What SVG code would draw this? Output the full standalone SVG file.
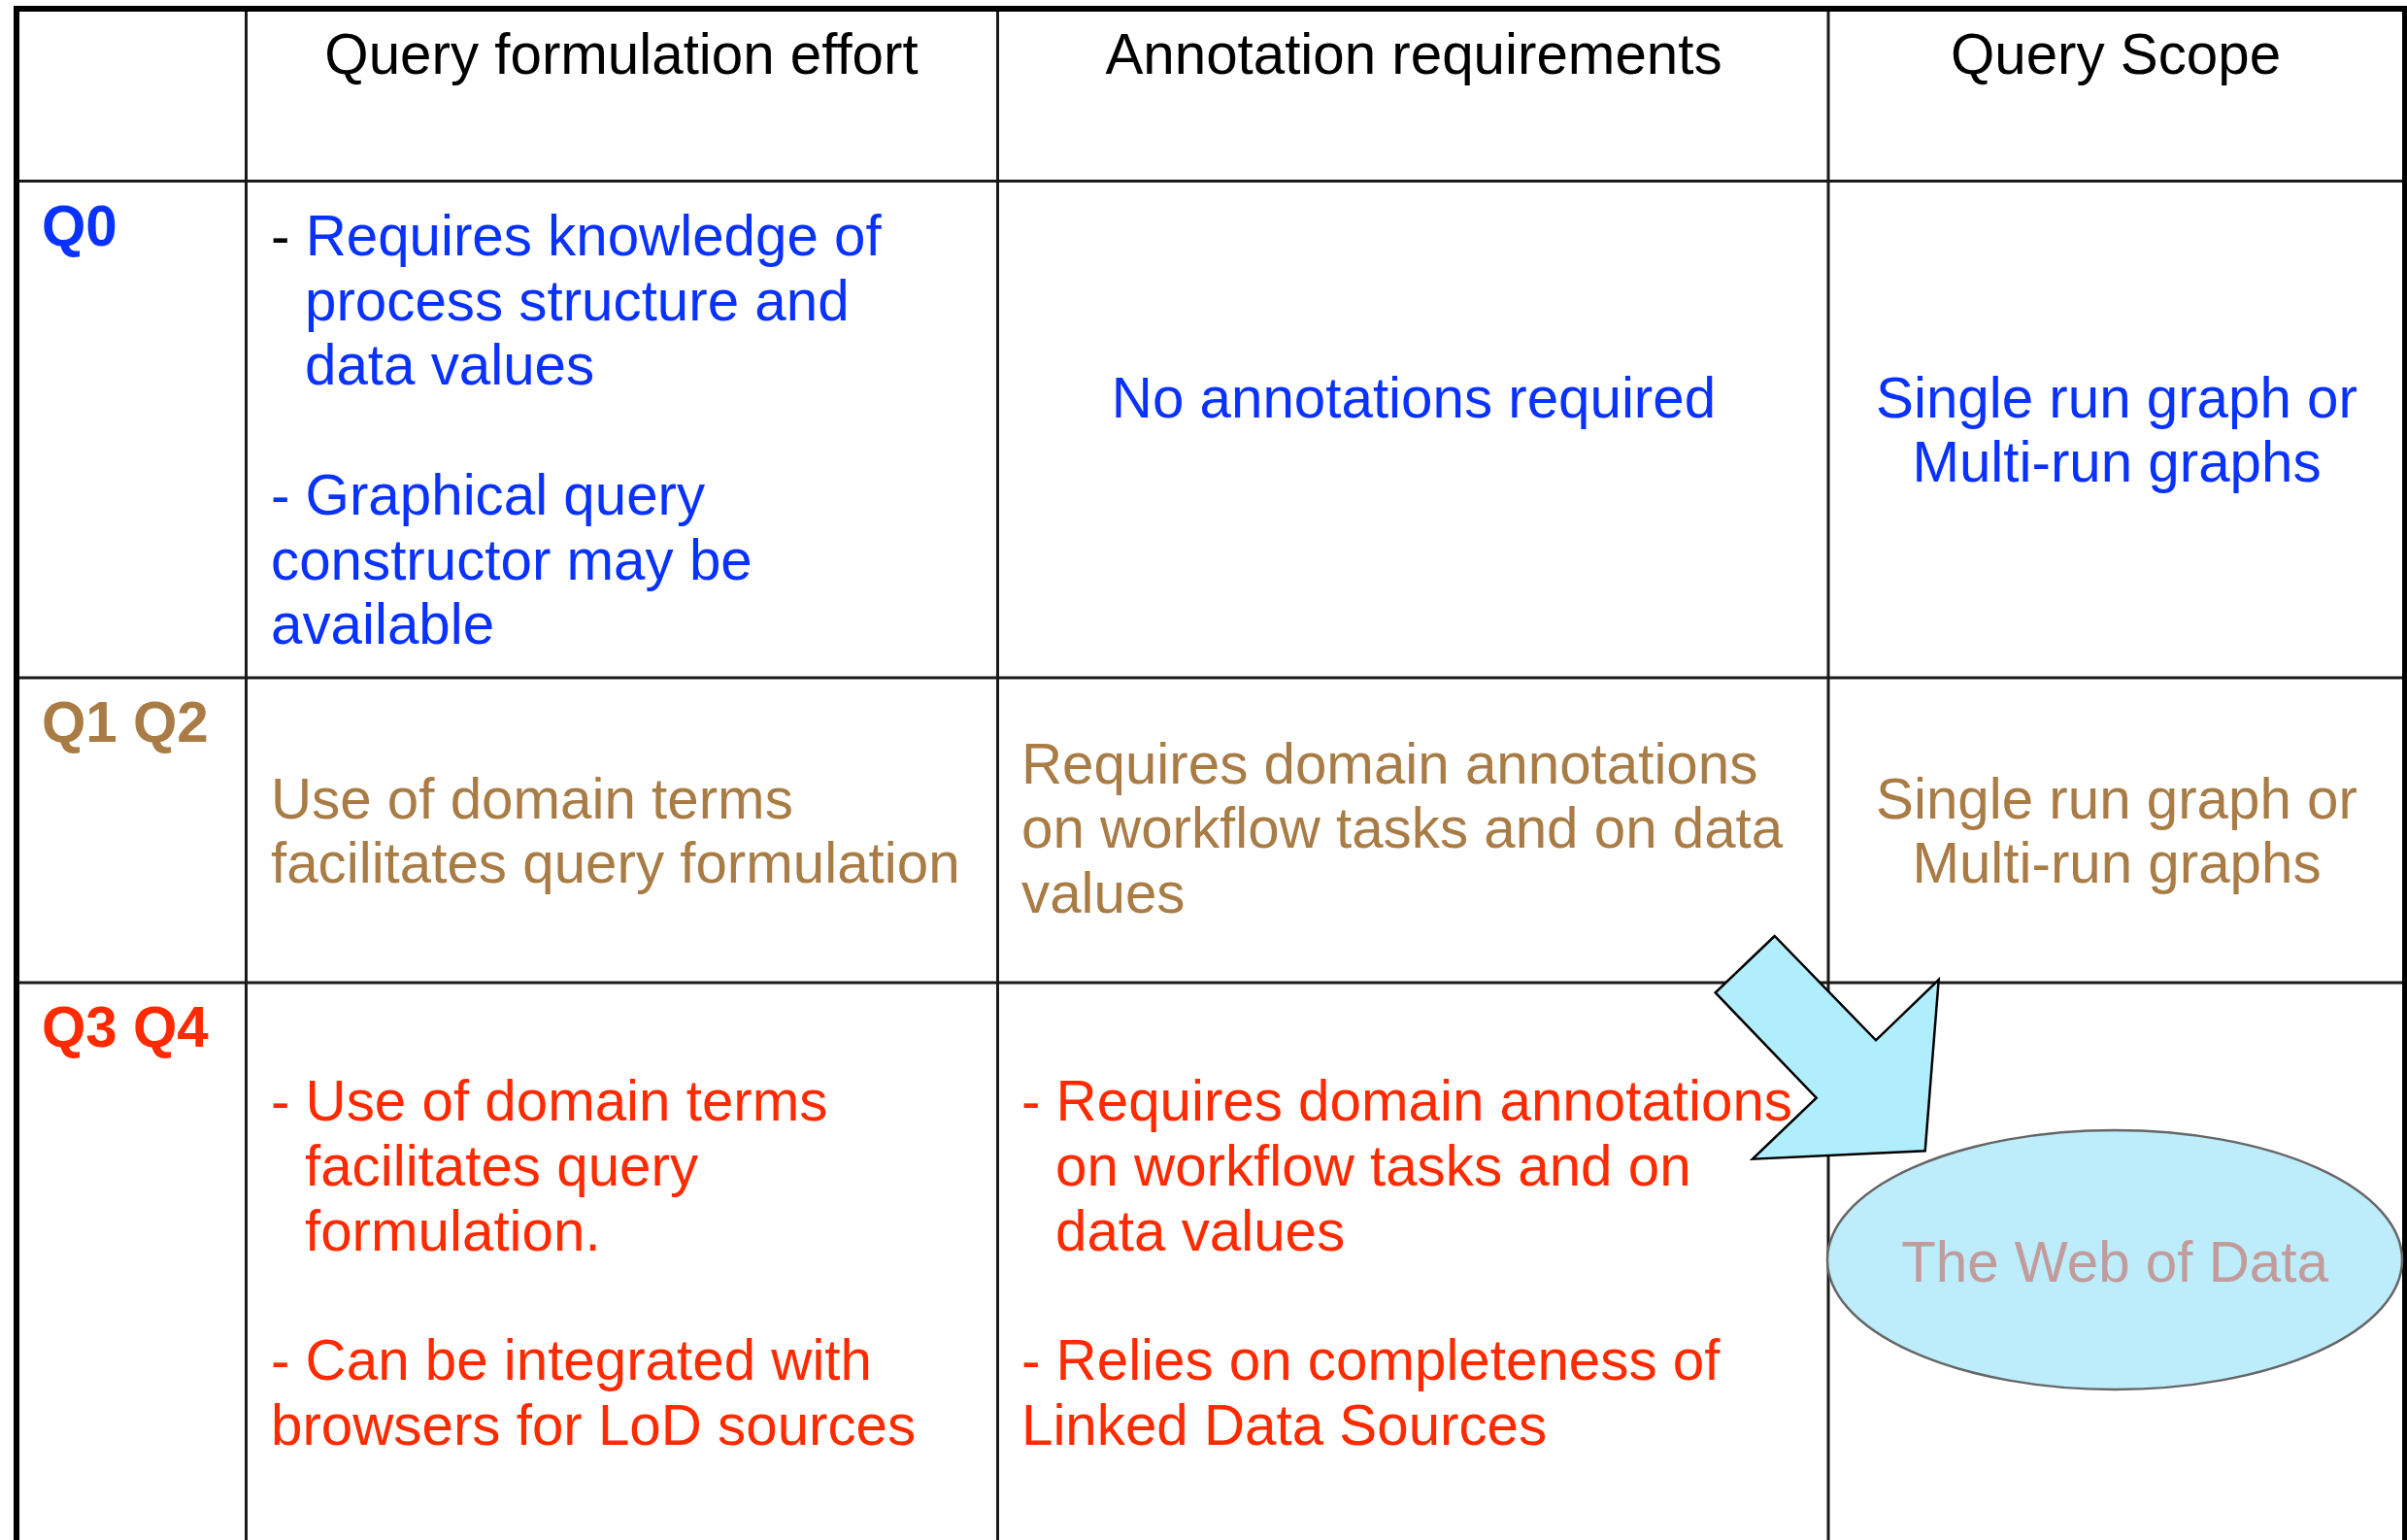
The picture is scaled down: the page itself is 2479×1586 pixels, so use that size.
<svg xmlns="http://www.w3.org/2000/svg" width="2479" height="1586" viewBox="0 0 2479 1586">
<style>
  text { font-family: "Liberation Sans", Arial, sans-serif; font-size: 58.3px; }
  .hdr { fill: #000000; text-anchor: middle; }
  .lbl { font-weight: bold; }
  .blue { fill: #0a32ff; }
  .brown { fill: #a97c46; }
  .red { fill: #ff2a00; }
  .mid { text-anchor: middle; }
  .grid { stroke: #1a1a1a; stroke-width: 3; fill: none; }
  .outer { stroke: #000000; stroke-width: 6; fill: none; }
</style>
<rect x="0" y="0" width="2479" height="1586" fill="#ffffff"/>
<g id="table-grid">
  <line class="grid" x1="17" y1="186.5" x2="2476" y2="186.5"/>
  <line class="grid" x1="17" y1="698" x2="2476" y2="698"/>
  <line class="grid" x1="17" y1="1012" x2="2476" y2="1012"/>
  <line class="grid" x1="253.5" y1="9" x2="253.5" y2="1586"/>
  <line class="grid" x1="1027.5" y1="9" x2="1027.5" y2="1586"/>
  <line class="grid" x1="1883" y1="9" x2="1883" y2="1586"/>
  <line class="outer" x1="14" y1="9" x2="2479" y2="9"/>
  <line class="outer" x1="17" y1="6" x2="17" y2="1586"/>
  <line class="outer" x1="2477" y1="6" x2="2477" y2="1586"/>
</g>
<g id="header-row">
  <text class="hdr" x="640" y="76">Query formulation effort</text>
  <text class="hdr" x="1456" y="76">Annotation requirements</text>
  <text class="hdr" x="2179" y="76">Query Scope</text>
</g>
<g id="row-q0">
  <text class="lbl blue" x="43" y="253">Q0</text>
  <text x="279" y="263"><tspan fill="#000000">- </tspan><tspan class="blue">Requires knowledge of</tspan></text>
  <text class="blue" x="314" y="329.7">process structure and</text>
  <text class="blue" x="314" y="396.4">data values</text>
  <text class="blue" x="279" y="529.8">- Graphical query</text>
  <text class="blue" x="279" y="596.5">constructor may be</text>
  <text class="blue" x="279" y="663.2">available</text>
  <text class="blue mid" x="1456" y="430">No annotations required</text>
  <text class="blue mid" x="2180" y="430">Single run graph or</text>
  <text class="blue mid" x="2180" y="496">Multi-run graphs</text>
</g>
<g id="row-q1q2">
  <text class="lbl brown" x="43" y="764">Q1 Q2</text>
  <text class="brown" x="279" y="843">Use of domain terms</text>
  <text class="brown" x="279" y="909">facilitates query formulation</text>
  <text class="brown" x="1052" y="807">Requires domain annotations</text>
  <text class="brown" x="1052" y="873">on workflow tasks and on data</text>
  <text class="brown" x="1052" y="940">values</text>
  <text class="brown mid" x="2180" y="843">Single run graph or</text>
  <text class="brown mid" x="2180" y="909">Multi-run graphs</text>
</g>
<g id="row-q3q4">
  <text class="lbl red" x="43" y="1078">Q3 Q4</text>
  <text class="red" x="279" y="1154">- Use of domain terms</text>
  <text class="red" x="314" y="1221">facilitates query</text>
  <text class="red" x="314" y="1288">formulation.</text>
  <text class="red" x="279" y="1421">- Can be integrated with</text>
  <text class="red" x="279" y="1488">browsers for LoD sources</text>
  <text class="red" x="1052" y="1154">- Requires domain annotations</text>
  <text class="red" x="1087" y="1221">on workflow tasks and on</text>
  <text class="red" x="1087" y="1288">data values</text>
  <text class="red" x="1052" y="1421">- Relies on completeness of</text>
  <text class="red" x="1052" y="1488">Linked Data Sources</text>
</g>
<g id="web-of-data">
  <ellipse cx="2178" cy="1297.5" rx="296" ry="133.5" fill="#bdecfb" stroke="#666666" stroke-width="2.5"/>
  <text class="mid" x="2178" y="1320" fill="#c29b9b">The Web of Data</text>
</g>
<g id="connectors">
  <polygon points="1827.7,964 1766.7,1022.3 1870.7,1130.7 1805,1193.7 1982.7,1185.3 1996.7,1009 1932,1071.3" fill="#b1eefd" stroke="#000000" stroke-width="2.5" stroke-linejoin="miter"/>
</g>
</svg>
